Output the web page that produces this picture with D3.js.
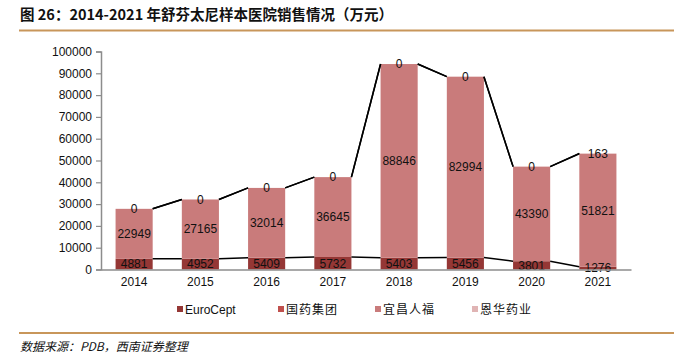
<!DOCTYPE html>
<html><head><meta charset="utf-8">
<script src="https://cdn.jsdelivr.net/npm/d3@7"></script>
<style>body{margin:0;background:#fff}svg{display:block}</style>
</head><body>
<svg id="c" width="677" height="356"></svg>
<script>
const years = ["2014","2015","2016","2017","2018","2019","2020","2021"];
const seriesNames = ["EuroCept","国药集团","宜昌人福","恩华药业"];
const euroCept = [4881,4952,5409,5732,5403,5456,3801,1276];
const guoyao = [null,null,null,null,null,null,null,null];
const yichang = [22949,27165,32014,36645,88846,82994,43390,51821];
const enhua = [0,0,0,0,0,0,0,163];
const yTicks = [0,10000,20000,30000,40000,50000,60000,70000,80000,90000,100000];
const colors = ["#953735","#c0504d","#c97b7b","#e0b4b4"];
const seriesData = [euroCept, guoyao, yichang, enhua];

const svg = d3.select("#c");
const cn = "'Noto Sans CJK SC', sans-serif";
const lat = "'Liberation Sans', Arial, sans-serif";

// title
svg.append("text").attr("x",20).attr("y",20).attr("font-family",cn).attr("font-weight","bold")
  .attr("font-size","14.5px").attr("fill","#111").text("图 26：2014-2021 年舒芬太尼样本医院销售情况（万元）");
svg.append("line").attr("x1",19).attr("x2",674).attr("y1",30.5).attr("y2",30.5).attr("stroke","#c8965a").attr("stroke-width",2);
svg.append("line").attr("x1",19).attr("x2",674).attr("y1",333).attr("y2",333).attr("stroke","#c8965a").attr("stroke-width",2);
svg.append("text").attr("x",20).attr("y",351).attr("font-family",cn).attr("font-style","italic")
  .attr("font-size","12px").attr("fill","#111").text("数据来源：PDB，西南证券整理");

const x = d3.scaleBand().domain(years).range([101,631]).paddingInner(0.44).paddingOuter(0.22);
const y = d3.scaleLinear().domain([0,100000]).range([269.5,51.5]);

// stack
const rows = years.map((yr,i)=>{const o={year:yr}; seriesNames.forEach((s,k)=>o[s]=seriesData[k][i]||0); return o;});
const stack = d3.stack().keys(seriesNames)(rows);

// bars
stack.forEach((layer,k)=>{
  svg.append("g").selectAll("rect").data(layer).join("rect")
    .attr("x",d=>x(d.data.year)).attr("width",x.bandwidth())
    .attr("y",d=>y(d[1])).attr("height",d=>Math.max(0,y(d[0])-y(d[1])))
    .attr("fill",colors[k]);
});

// series lines
stack.forEach((layer,k)=>{
  if (seriesData[k].every(v=>v==null)) return;
  for (let i=0;i<layer.length-1;i++){
    svg.append("line")
      .attr("x1",x(years[i])+x.bandwidth()).attr("y1",y(layer[i][1]))
      .attr("x2",x(years[i+1])).attr("y2",y(layer[i+1][1]))
      .attr("stroke","#000").attr("stroke-width",1.5);
  }
});

// labels
stack.forEach((layer,k)=>{
  if (seriesData[k].every(v=>v==null)) return;
  svg.append("g").selectAll("text").data(layer).join("text")
    .attr("x",d=>x(d.data.year)+x.bandwidth()/2)
    .attr("y",d=>(y(d[0])+y(d[1]))/2+4.3)
    .attr("text-anchor","middle").attr("font-family",lat).attr("font-size","12px").attr("fill","#111")
    .text((d,i)=>seriesData[k][i]);
});

// y axis
const ya = svg.append("g").attr("transform","translate(101,0)")
  .call(d3.axisLeft(y).tickValues(yTicks).tickSize(5).tickPadding(4).tickFormat(d3.format("d")));
ya.select(".domain").attr("stroke","#8c8c8c").attr("stroke-width",1.5);
ya.selectAll(".tick line").attr("stroke","#8c8c8c").attr("stroke-width",1.2);
ya.selectAll("text").attr("font-family",lat).attr("font-size","12px").attr("fill","#111");

// x axis
const xa = svg.append("g").attr("transform","translate(0,269.5)")
  .call(d3.axisBottom(x).tickSize(0).tickPadding(8));
xa.select(".domain").attr("stroke","#8c8c8c").attr("stroke-width",1.5);
xa.selectAll("text").attr("font-family",lat).attr("font-size","12px").attr("fill","#111");

// legend
const legX = [177,278,375,472];
const lg = svg.append("g");
seriesNames.forEach((s,k)=>{
  lg.append("rect").attr("x",legX[k]).attr("y",306).attr("width",6).attr("height",6).attr("fill",colors[k]);
  lg.append("text").attr("x",legX[k]+8).attr("y",313.5)
    .attr("font-family",k===0?lat:cn).attr("font-size","12px").attr("fill","#111")
    .attr("letter-spacing",k===0?0:"1px").text(s);
});
</script>
</body></html>
